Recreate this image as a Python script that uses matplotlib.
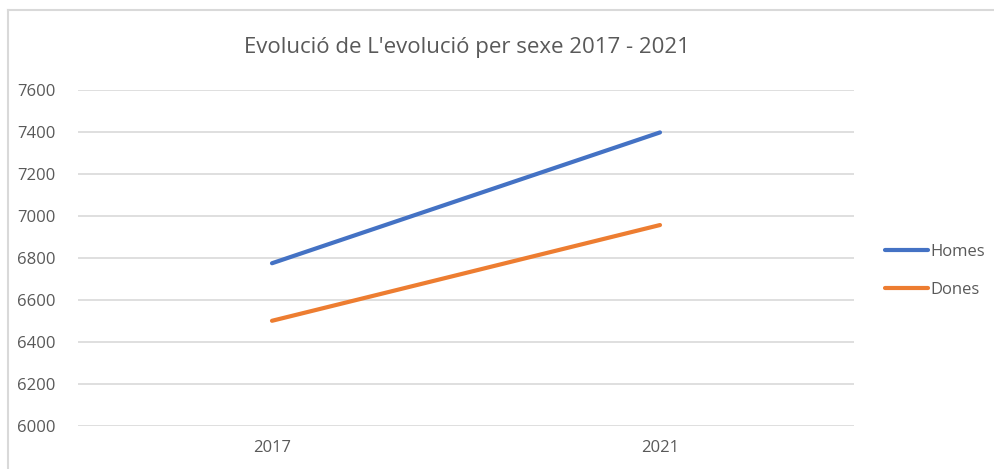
import matplotlib

matplotlib.use("Agg")
import matplotlib.pyplot as plt
from matplotlib.lines import Line2D

years = ["2017", "2021"]
homes = [6775, 7398]
dones = [6501, 6957]
y_ticks = [6000, 6200, 6400, 6600, 6800, 7000, 7200, 7400, 7600]

TEXT = "#595959"
GRID = "#D9D9D9"
plt.rcParams["font.family"] = ["Open Sans", "DejaVu Sans"]

fig = plt.figure(figsize=(9.94, 4.69), dpi=100)
W, H = 994, 469

# chart frame (only top and left edges visible in the crop)
fig.add_artist(Line2D([8 / W, 8 / W], [0, 1 - 10 / H], color=GRID, lw=1.5))
fig.add_artist(Line2D([8 / W, 1], [1 - 10 / H, 1 - 10 / H], color=GRID, lw=1.5))

ax = fig.add_axes([78 / W, 1 - 426 / H, (854 - 78) / W, (426 - 90) / H])
x = [0, 1]
ax.plot(x, homes, color="#4472C4", lw=3, solid_capstyle="round", label="Homes")
ax.plot(x, dones, color="#ED7D31", lw=3, solid_capstyle="round", label="Dones")

ax.set_xlim(-0.5, 1.5)
ax.set_ylim(6000, 7600)
ax.set_xticks(x)
ax.set_xticklabels(years)
ax.set_yticks(y_ticks)
ax.tick_params(length=0, colors=TEXT, labelsize=12)
ax.tick_params(axis="y", pad=16)
ax.tick_params(axis="x", pad=10)
ax.grid(axis="y", color=GRID, lw=1.2)
ax.set_axisbelow(True)
for s in ax.spines.values():
    s.set_visible(False)

fig.text(467 / W, 1 - 48 / H, "Evolució de L'evolució per sexe 2017 - 2021",
         ha="center", va="center", fontsize=16, color=TEXT)

ax.legend(loc="center left", bbox_to_anchor=(885 / W, 1 - 271 / H),
          bbox_transform=fig.transFigure, frameon=False, fontsize=12,
          labelcolor=TEXT, handlelength=2.6, handletextpad=0.15,
          borderpad=0, borderaxespad=0, labelspacing=1.3)

fig.savefig("out.png", dpi=100)
